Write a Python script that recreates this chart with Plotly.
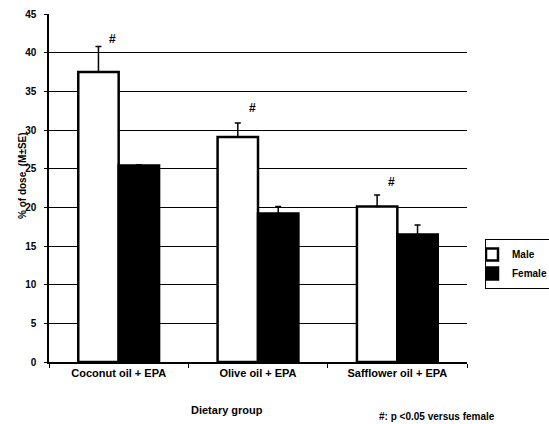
import plotly.graph_objects as go

groups = ["Coconut oil + EPA", "Olive oil + EPA", "Safflower oil + EPA"]
male = [37.5, 29.1, 20.1]
male_se = [3.3, 1.8, 1.5]
female = [25.4, 19.2, 16.5]
female_se = [0.1, 0.9, 1.2]
sig_y = [41.8, 32.8, 23.3]
yticks = [0, 5, 10, 15, 20, 25, 30, 35, 40, 45]

FONT = "Liberation Sans, Arial, sans-serif"

fig = go.Figure()
fig.add_trace(go.Bar(
    name="Male", x=groups, y=male,
    marker=dict(color="white", line=dict(color="black", width=2.5)),
    error_y=dict(type="data", symmetric=False, array=male_se, arrayminus=[0]*3,
                 color="black", thickness=1.5, width=3),
))
fig.add_trace(go.Bar(
    name="Female", x=groups, y=female,
    marker=dict(color="black", line=dict(color="black", width=2.5)),
    error_y=dict(type="data", symmetric=False, array=female_se, arrayminus=[0]*3,
                 color="black", thickness=1.5, width=3),
))

for g, yv in zip(groups, sig_y):
    fig.add_annotation(x=g, y=yv, text="#", showarrow=False, xref="x", yref="y",
                       xshift=-6, font=dict(family=FONT, size=12, color="black", weight="bold"))

fig.add_annotation(x=(227 - 49) / 418, y=(362 - 410) / 348, xref="paper", yref="paper",
                   text="Dietary group", showarrow=False, xanchor="center", yanchor="middle",
                   font=dict(family=FONT, size=11, color="black", weight="bold"))
fig.add_annotation(x=(497 - 49) / 418, y=(362 - 416) / 348, xref="paper", yref="paper",
                   text="#: p <0.05 versus female", showarrow=False, xanchor="right", yanchor="middle",
                   font=dict(family=FONT, size=10, color="black", weight="bold"))
fig.add_annotation(x=(22 - 49) / 418, y=(362 - 176) / 348, xref="paper", yref="paper",
                   text="% of dose  (M±SE)", showarrow=False, textangle=-90,
                   xanchor="center", yanchor="middle",
                   font=dict(family=FONT, size=10, color="black", weight="bold"))

fig.update_layout(
    width=549, height=424,
    margin=dict(l=49, r=82, t=14, b=62, autoexpand=False),
    paper_bgcolor="white", plot_bgcolor="white",
    barmode="group", bargap=0.42, bargroupgap=0,
    font=dict(family=FONT, color="black", weight="bold"),
    showlegend=True,
    legend=dict(x=(485 - 49) / 418, y=(362 - 239) / 348, xanchor="left", yanchor="top",
                bordercolor="black", borderwidth=1, bgcolor="white",
                font=dict(family=FONT, size=10, color="black", weight="bold"),
                itemwidth=30, tracegroupgap=0, indentation=-14),
)
fig.update_xaxes(showline=True, linecolor="black", linewidth=1.5, automargin=False,
                 ticks="outside", tickson="boundaries", ticklen=4, tickcolor="black",
                 tickfont=dict(family=FONT, size=11, color="black", weight="bold"),
                 showgrid=False)
fig.update_yaxes(range=[0, 45], tickvals=yticks, showline=True, linecolor="black", linewidth=1.5,
                 automargin=False, ticklabelstandoff=6,
                 ticks="outside", ticklen=3, tickcolor="black",
                 showgrid=True, gridcolor="black", gridwidth=1, zeroline=False,
                 tickfont=dict(family=FONT, size=10, color="black", weight="bold"))

fig.write_html("out.html", config={"displayModeBar": False},
               post_script="document.body.style.margin='0px';")
